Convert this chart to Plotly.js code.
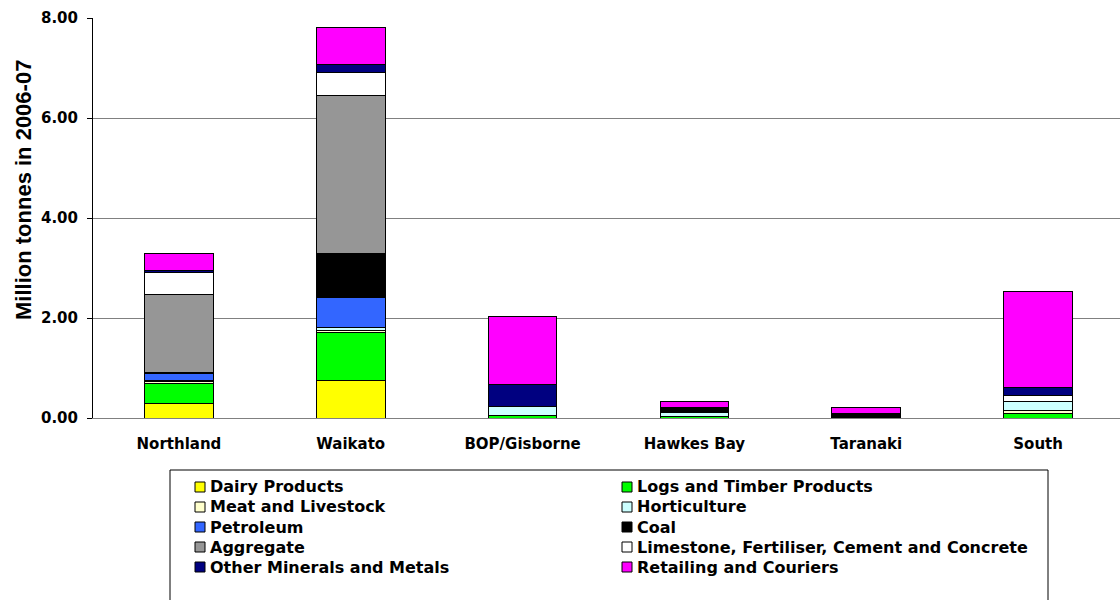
<!DOCTYPE html>
<html>
<head>
<meta charset="utf-8">
<script src="https://cdn.plot.ly/plotly-3.0.1.min.js"></script>
<style>
  html, body { margin: 0; padding: 0; background: #fff; overflow: hidden; }
  #chart { width: 1124px; height: 600px; }
</style>
</head>
<body>
<div id="chart"></div>
<script>
// Freight tonnage by region and commodity, million tonnes, 2006-07
const regions = ["Northland", "Waikato", "BOP/Gisborne", "Hawkes Bay", "Taranaki", "South"];

const dairyProducts   = [0.29, 0.76, null, null, null, null];
const logsTimber      = [0.41, 0.95, 0.06, 0.03, null, 0.10];
const meatLivestock   = [0.04, 0.04, null, null, null, 0.05];
const horticulture    = [0.02, 0.06, 0.18, 0.09, null, 0.18];
const petroleum       = [0.13, 0.61, null, null, null, null];
const coal            = [0.03, 0.87, null, 0.09, 0.09, null];
const aggregate       = [1.55, 3.17, null, null, null, null];
const limestoneEtc    = [0.45, 0.45, null, null, null, 0.13];
const otherMinerals   = [0.04, 0.16, 0.44, null, null, 0.15];
const retailCouriers  = [0.33, 0.74, 1.36, 0.12, 0.12, 1.93];

const seriesNames = [
  "Dairy Products", "Logs and Timber Products",
  "Meat and Livestock", "Horticulture",
  "Petroleum", "Coal",
  "Aggregate", "Limestone, Fertiliser, Cement and Concrete",
  "Other Minerals and Metals", "Retailing and Couriers"
];
const seriesValues = [
  dairyProducts, logsTimber, meatLivestock, horticulture, petroleum,
  coal, aggregate, limestoneEtc, otherMinerals, retailCouriers
];
const seriesColors = [
  "#FFFF00", "#00FF00", "#FFFFCC", "#CCFFFF", "#3366FF",
  "#000000", "#969696", "#FFFFFF", "#000080", "#FF00FF"
];

const FONT = "DejaVu Sans, Liberation Sans, Arial, sans-serif";
const TITLE_FONT = "Liberation Sans, Arial, sans-serif";

// Plot-area geometry in pixels, used to place the key box below the axis
const W = 1124, H = 600;
const M = { l: 93, r: 0, t: 18, b: 182 };
const plotW = W - M.l - M.r;
const plotH = H - M.t - M.b;
const px2x = px => (px - M.l) / plotW;
const py2y = py => (H - M.b - py) / plotH;

const traces = seriesNames.map((name, i) => ({
  type: "bar",
  name: name,
  x: regions,
  y: seriesValues[i],
  width: 0.4,
  marker: { color: seriesColors[i], line: { color: "#000000", width: 1 } },
  showlegend: false
}));

// Key: boxed two-column list of swatches and names
const key = { left: 170, right: 1048, top: 470, rowY0: 487, rowStep: 20,
              colSwatch: [195, 622], swatch: 10, textGap: 3 };
const shapes = [{
  type: "rect", xref: "paper", yref: "paper",
  x0: px2x(key.left), x1: px2x(key.right),
  y0: py2y(key.top), y1: py2y(H + 10),
  line: { color: "#000000", width: 1 }, fillcolor: "#ffffff", layer: "below"
}];
const annotations = [];
seriesNames.forEach((name, i) => {
  const col = i % 2, row = Math.floor(i / 2);
  const cy = key.rowY0 + row * key.rowStep;
  const sx = key.colSwatch[col];
  shapes.push({
    type: "rect", xref: "paper", yref: "paper",
    x0: px2x(sx), x1: px2x(sx + key.swatch),
    y0: py2y(cy + key.swatch / 2), y1: py2y(cy - key.swatch / 2),
    line: { color: "#000000", width: 1 }, fillcolor: seriesColors[i]
  });
  annotations.push({
    xref: "paper", yref: "paper",
    x: px2x(sx + key.swatch + key.textGap), y: py2y(cy),
    xanchor: "left", yanchor: "middle", showarrow: false,
    text: name,
    font: { family: FONT, size: 16, color: "#000000", weight: "bold" }
  });
});

// Value-axis title
annotations.push({
  xref: "paper", yref: "paper",
  x: px2x(23), y: py2y(190),
  xanchor: "center", yanchor: "middle", showarrow: false,
  textangle: -90,
  text: "Million tonnes in 2006-07",
  font: { family: TITLE_FONT, size: 22, color: "#000000", weight: "bold" }
});

const layout = {
  width: W,
  height: H,
  margin: M,
  paper_bgcolor: "#ffffff",
  plot_bgcolor: "#ffffff",
  barmode: "stack",
  font: { family: FONT, size: 15, color: "#000000", weight: "bold" },
  showlegend: false,
  xaxis: {
    type: "category",
    range: [-0.5, 5.5],
    showline: true,
    linecolor: "#808080",
    linewidth: 1,
    ticks: "",
    ticklabelstandoff: 12,
    showgrid: false,
    tickfont: { family: FONT, size: 15, color: "#000000", weight: "bold" },
    fixedrange: true
  },
  yaxis: {
    range: [0, 8],
    tickvals: [0, 2, 4, 6, 8],
    tickformat: ".2f",
    showgrid: true,
    gridcolor: "#808080",
    gridwidth: 1,
    zeroline: false,
    showline: true,
    linecolor: "#000000",
    linewidth: 1,
    ticks: "outside",
    ticklen: 5,
    tickcolor: "#000000",
    ticklabelstandoff: 6,
    tickfont: { family: FONT, size: 15, color: "#000000", weight: "bold" },
    fixedrange: true
  },
  shapes: shapes,
  annotations: annotations
};

Plotly.newPlot("chart", traces, layout, { displayModeBar: false, staticPlot: true });
</script>
</body>
</html>
